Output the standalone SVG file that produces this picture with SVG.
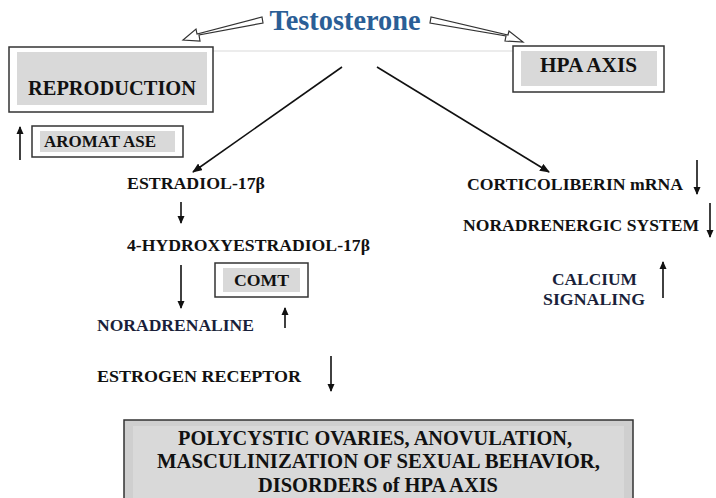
<svg xmlns="http://www.w3.org/2000/svg" width="716" height="498" viewBox="0 0 716 498">
<defs>
<style>
text{font-family:"Liberation Serif","Times New Roman",serif;font-weight:bold;fill:#111;}
.t{font-size:17px;}
.box-out{fill:#fff;stroke:#333;stroke-width:1.5;}
.box-in{fill:#d9d9d9;}
.ln{stroke:#111;stroke-width:1.6;fill:none;}
.hollow{fill:#fff;stroke:#333;stroke-width:1.2;}
</style>
<marker id="ah" markerWidth="10" markerHeight="8" refX="9" refY="4" orient="auto" markerUnits="userSpaceOnUse">
<path d="M0,0 L10,4 L0,8 z" fill="#111"/>
</marker>
<marker id="ahs" markerWidth="8" markerHeight="8" refX="7" refY="4" orient="auto" markerUnits="userSpaceOnUse">
<path d="M0,0.5 L8,4 L0,7.5 z" fill="#111"/>
</marker>
</defs>
<rect width="716" height="498" fill="#fff"/>
<line x1="210" y1="51" x2="516" y2="51" stroke="#e6e6e6" stroke-width="1.5"/>

<g id="testosterone">
<text x="345" y="30" text-anchor="middle" textLength="151" lengthAdjust="spacingAndGlyphs" style="font-size:29px;fill:#2a5e96">Testosterone</text>
</g>

<g id="connectors">
<path class="hollow" d="M262,17 L263,23 L199,35 L200,41 L183,40 L196,29 L197,34 Z"/>
<path class="hollow" d="M431,17 L430,23 L506,36 L505,41 L523,42 L509,31 L508,35 Z"/>
<line class="ln" x1="342" y1="67" x2="193" y2="172" marker-end="url(#ah)"/>
<line class="ln" x1="377" y1="67" x2="549" y2="172" marker-end="url(#ah)"/>
<line class="ln" x1="181" y1="202" x2="181" y2="223" marker-end="url(#ahs)"/>
<line class="ln" x1="181" y1="265" x2="181" y2="308" marker-end="url(#ahs)"/>
<line class="ln" x1="20" y1="160" x2="20" y2="127" stroke-width="2.2" marker-end="url(#ahs)"/>
<line class="ln" x1="285" y1="328" x2="285" y2="308" stroke-width="2.2" marker-end="url(#ahs)"/>
<line class="ln" x1="331" y1="356" x2="331" y2="391" stroke-width="2.2" marker-end="url(#ahs)"/>
<line class="ln" x1="697" y1="160" x2="697" y2="194" stroke-width="2.2" marker-end="url(#ahs)"/>
<line class="ln" x1="710" y1="203" x2="710" y2="237" stroke-width="2.2" marker-end="url(#ahs)"/>
<line class="ln" x1="663" y1="298" x2="663" y2="262" stroke-width="2.2" marker-end="url(#ahs)"/>
</g>

<g id="reproduction">
<rect class="box-out" x="9" y="47" width="204" height="65"/>
<rect class="box-in" x="17" y="52" width="190" height="53"/>
<text x="28" y="95" textLength="168" lengthAdjust="spacingAndGlyphs" style="font-size:20px">REPRODUCTION</text>
</g>

<g id="aromatase">
<rect class="box-out" x="32" y="126" width="151" height="31"/>
<rect class="box-in" x="40" y="131" width="135" height="21"/>
<text x="44" y="147" class="t" textLength="112" lengthAdjust="spacingAndGlyphs">AROMAT ASE</text>
</g>

<g id="hpa-axis">
<rect class="box-out" x="513" y="46" width="151" height="46"/>
<rect class="box-in" x="521" y="51" width="136" height="35"/>
<text x="540" y="72" textLength="97" lengthAdjust="spacingAndGlyphs" style="font-size:20px">HPA AXIS</text>
</g>

<g id="estradiol">
<text x="127" y="189" class="t" textLength="138" lengthAdjust="spacingAndGlyphs">ESTRADIOL-17β</text>
</g>

<g id="hydroxyestradiol">
<text x="127" y="251" class="t" textLength="243" lengthAdjust="spacingAndGlyphs">4-HYDROXYESTRADIOL-17β</text>
</g>

<g id="comt">
<rect class="box-out" x="215" y="263" width="93" height="34"/>
<rect class="box-in" x="223" y="268" width="77" height="24"/>
<text x="234" y="286" class="t" textLength="55" lengthAdjust="spacingAndGlyphs">COMT</text>
</g>

<g id="noradrenaline">
<text x="97" y="331" class="t" textLength="157" lengthAdjust="spacingAndGlyphs" style="fill:#1a1f3a">NORADRENALINE</text>
</g>

<g id="estrogen-receptor">
<text x="97" y="382" class="t" textLength="204" lengthAdjust="spacingAndGlyphs">ESTROGEN RECEPTOR</text>
</g>

<g id="corticoliberin">
<text x="467" y="190" class="t" textLength="216" lengthAdjust="spacingAndGlyphs">CORTICOLIBERIN mRNA</text>
</g>

<g id="noradrenergic">
<text x="463" y="231" class="t" textLength="236" lengthAdjust="spacingAndGlyphs">NORADRENERGIC SYSTEM</text>
</g>

<g id="calcium">
<text x="552" y="285" class="t" textLength="85" lengthAdjust="spacingAndGlyphs" style="fill:#1a1f3a">CALCIUM</text>
<text x="543" y="305" class="t" textLength="102" lengthAdjust="spacingAndGlyphs" style="fill:#1a1f3a">SIGNALING</text>
</g>

<g id="outcome">
<rect x="124" y="420" width="509" height="82" fill="#cfcfcf" stroke="#333" stroke-width="1.5"/>
<rect class="box-in" x="133" y="426" width="491" height="76"/>
<text x="178" y="445" textLength="394" lengthAdjust="spacingAndGlyphs" style="font-size:20px">POLYCYSTIC OVARIES, ANOVULATION,</text>
<text x="157" y="468" textLength="443" lengthAdjust="spacingAndGlyphs" style="font-size:20px">MASCULINIZATION OF SEXUAL BEHAVIOR,</text>
<text x="258" y="492" textLength="240" lengthAdjust="spacingAndGlyphs" style="font-size:20px">DISORDERS of HPA AXIS</text>
</g>
</svg>
